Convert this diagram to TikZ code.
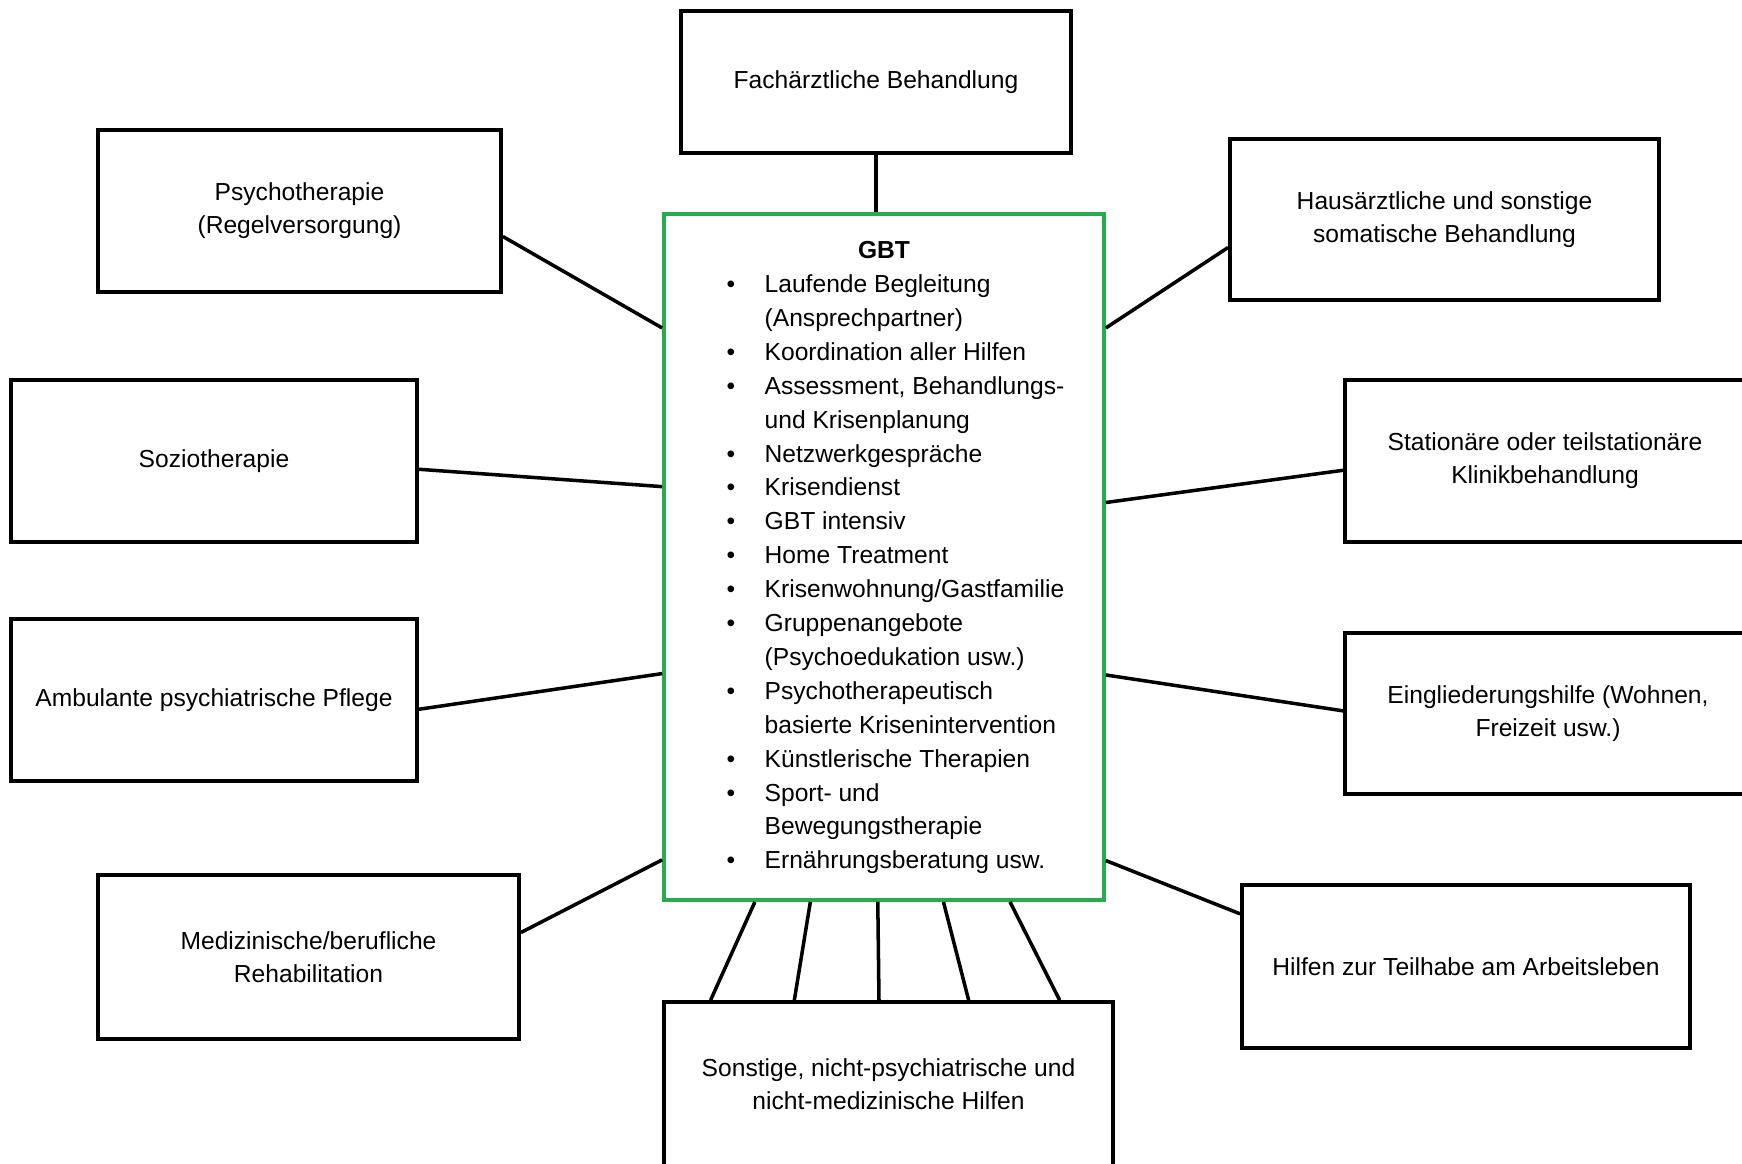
\documentclass[tikz,border=0pt]{standalone}
\usepackage{fontspec}
\setmainfont{Liberation Sans}
\usetikzlibrary{calc}
\definecolor{gbtgreen}{RGB}{36,172,78}
\pgfdeclareradialshading{vignette}{\pgfpoint{0bp}{0bp}}{color(0bp)=(white);color(53bp)=(white);color(71bp)=(black!13)}
\tikzset{
	diagram/.style={x=0.01cm, y=-0.01cm, line width=1pt,
		font=\fontsize{7}{9.4}\selectfont},
	box/.style 2 args={draw, align=center, inner sep=0pt,
		minimum width=#1*0.1mm, minimum height=#2*0.1mm},
	gbt box/.style={box={440}{686}, draw=gbtgreen,
		font=\fontsize{7}{9.64}\selectfont}
}

\begin{document}
\begin{tikzpicture}[diagram]
	\shade[shading=vignette] (0,0) rectangle (1742,1164);
	\useasboundingbox (0,0) rectangle (1742,1164);
	\clip (0,0) rectangle (1742,1164);
	\node[gbt box] (gbt) at (884,557) {\begin{tabular}{@{\hspace{2.3mm}}p{3.8mm}@{}l@{}}
			\multicolumn{2}{c}{\textbf{GBT}}\\
			\textbullet & Laufende Begleitung\\
			& (Ansprechpartner)\\
			\textbullet & Koordination aller Hilfen\\
			\textbullet & Assessment, Behandlungs-\\
			& und Krisenplanung\\
			\textbullet & Netzwerkgespräche\\
			\textbullet & Krisendienst\\
			\textbullet & GBT intensiv\\
			\textbullet & Home Treatment\\
			\textbullet & Krisenwohnung/Gastfamilie\\
			\textbullet & Gruppenangebote\\
			& (Psychoedukation usw.)\\
			\textbullet & Psychotherapeutisch\\
			& basierte Krisenintervention\\
			\textbullet & Künstlerische Therapien\\
			\textbullet & Sport- und\\
			& Bewegungstherapie\\
			\textbullet & Ernährungsberatung usw.
		\end{tabular}};
	\node[box={390}{142}] (fach) at (876,82) {Fachärztliche Behandlung};
	\node[box={403}{162}] (psy) at (299.5,211) {Psychotherapie\\(Regelversorgung)};
	\node[box={429}{161}] (haus) at (1444.5,219.5) {Hausärztliche und sonstige\\somatische Behandlung};
	\node[box={406}{162}] (sozio) at (214,461) {Soziotherapie};
	\node[box={400}{162}] (klinik) at (1545,461) {Stationäre oder teilstationäre\\Klinikbehandlung};
	\node[box={406}{162}] (amb) at (214,700) {Ambulante psychiatrische Pflege};
	\node[box={406}{161}] (eingl) at (1548,713.5) {Eingliederungshilfe (Wohnen,\\Freizeit usw.)};
	\node[box={421}{164}] (reha) at (308.5,957) {Medizinische/berufliche\\Rehabilitation};
	\node[box={448}{163}] (arbeit) at (1466,966.5) {Hilfen zur Teilhabe am Arbeitsleben};
	\node[box={449}{164}] (sonst) at (888.5,1084) {Sonstige, nicht-psychiatrische und\\nicht-medizinische Hilfen};
	\draw (fach.south) -- (fach.south |- gbt.north);
	\foreach \n/\a/\b in {psy/0.654/0.168, sozio/0.55/0.398, amb/0.556/0.669, reha/0.354/0.939}
		\draw ($(\n.north east)!\a!(\n.south east)$) -- ($(gbt.north west)!\b!(gbt.south west)$);
	\foreach \n/\a/\b in {haus/0.67/0.168, klinik/0.556/0.421, eingl/0.484/0.671, arbeit/0.184/0.94}
		\draw ($(\n.north west)!\a!(\n.south west)$) -- ($(gbt.north east)!\b!(gbt.south east)$);
	\foreach \a/\b in {0.209/0.107, 0.334/0.292, 0.486/0.479, 0.634/0.677, 0.784/0.878}
		\draw ($(gbt.south west)!\a!(gbt.south east)$) -- ($(sonst.north west)!\b!(sonst.north east)$);
\end{tikzpicture}
\end{document}
